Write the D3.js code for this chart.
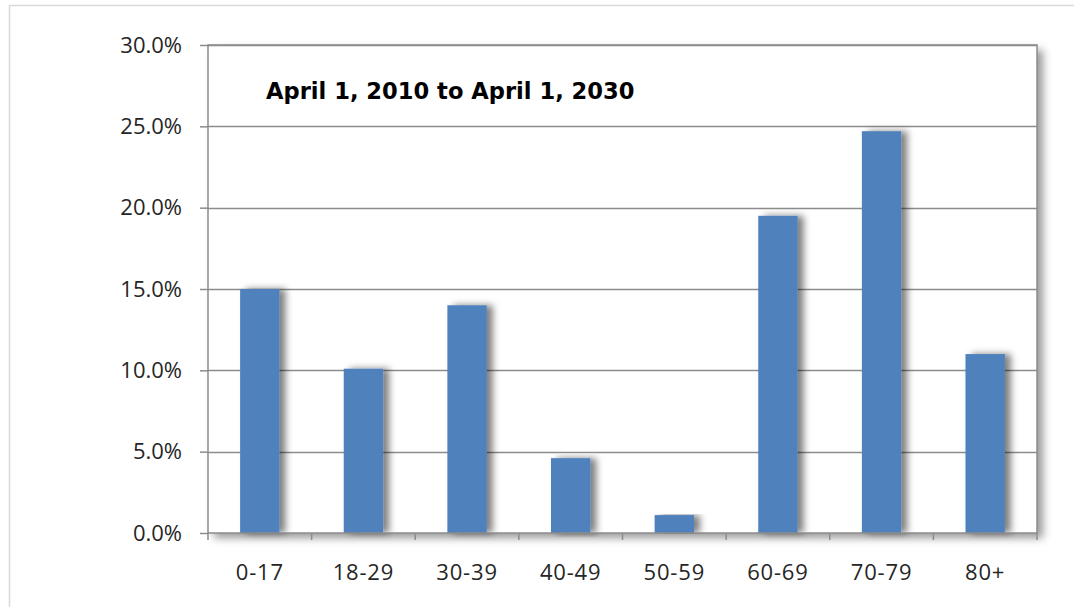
<!DOCTYPE html>
<html><head><meta charset="utf-8">
<script src="https://cdn.jsdelivr.net/npm/d3@7"></script>
<style>body{margin:0;background:#fff}svg{display:block}</style>
</head><body>
<svg id="c" width="1074" height="607"></svg>
<script>
const categories = ["0-17","18-29","30-39","40-49","50-59","60-69","70-79","80+"];
const values = [15.0, 10.1, 14.0, 4.6, 1.1, 19.5, 24.7, 11.0];
const yTicks = [0, 5, 10, 15, 20, 25, 30];
const title = "April 1, 2010 to April 1, 2030";

const svg = d3.select("#c");
const m = {l:208, t:45, r:1037, b:533};
const x = d3.scaleBand().domain(categories).range([m.l, m.r]).paddingInner(0.62).paddingOuter(0.31);
const y = d3.scaleLinear().domain([0,30]).range([m.b, m.t]);
const FONT = "'Open Sans', 'Liberation Sans', sans-serif";

const defs = svg.append("defs");
const f1 = defs.append("filter").attr("id","sh").attr("x","-20%").attr("y","-20%").attr("width","150%").attr("height","150%");
f1.append("feDropShadow").attr("dx",6).attr("dy",5).attr("stdDeviation",4.5).attr("flood-color","#000").attr("flood-opacity",0.4);
const f2 = defs.append("filter").attr("id","bs").attr("x","-20%").attr("y","-5%").attr("width","160%").attr("height","110%");
f2.append("feDropShadow").attr("dx",6).attr("dy",0).attr("stdDeviation",3.5).attr("flood-color","#000").attr("flood-opacity",0.5);

// outer frame
svg.append("rect").attr("x",9.5).attr("y",5.5).attr("width",1080).attr("height",620)
  .attr("fill","#fff").attr("stroke","#d9d9d9").attr("stroke-width",1.5);

// plot area with shadow
svg.append("rect").attr("x",m.l).attr("y",m.t).attr("width",m.r-m.l).attr("height",m.b-m.t)
  .attr("fill","#fff").attr("filter","url(#sh)");

// gridlines
svg.append("g").selectAll("line").data(yTicks.filter(d=>d>0)).join("line")
  .attr("x1",m.l).attr("x2",m.r).attr("y1",d=>Math.round(y(d))+0.5).attr("y2",d=>Math.round(y(d))+0.5)
  .attr("stroke","#8c8c8c").attr("stroke-width",1.5);

// bars
svg.append("g").selectAll("rect").data(values).join("rect")
  .attr("x",(d,i)=>x(categories[i])).attr("width",x.bandwidth())
  .attr("y",d=>y(d)).attr("height",d=>y(0)-y(d))
  .attr("fill","#4f81bd").attr("filter","url(#bs)");

// frame
svg.append("rect").attr("x",m.l).attr("y",m.t).attr("width",m.r-m.l).attr("height",m.b-m.t)
  .attr("fill","none").attr("stroke","#8c8c8c").attr("stroke-width",1.5);

// y axis
const ya = svg.append("g").attr("transform",`translate(${m.l},0)`)
  .call(d3.axisLeft(y).tickValues(yTicks).tickSize(8).tickPadding(18).tickFormat(d=>d.toFixed(1)+"%"));
ya.select(".domain").remove();
ya.selectAll("line").attr("stroke","#8c8c8c").attr("stroke-width",1.5);
ya.selectAll("text").attr("font-family",FONT).attr("font-size",22).attr("fill","#262626");

// x axis
const xa = svg.append("g").attr("transform",`translate(0,${m.b})`);
const bounds = categories.map(c=>x(c)-x.step()*x.paddingInner()/2).concat([m.r]);
xa.selectAll("line").data(bounds).join("line")
  .attr("x1",d=>d).attr("x2",d=>d).attr("y1",0).attr("y2",7).attr("stroke","#8c8c8c").attr("stroke-width",1.5);
xa.selectAll("text").data(categories).join("text")
  .attr("x",d=>x(d)+x.bandwidth()/2).attr("y",47).attr("text-anchor","middle")
  .attr("font-family",FONT).attr("font-size",22).attr("letter-spacing",0.8).attr("fill","#262626").text(d=>d);

// title
svg.append("text").attr("x",266).attr("y",99).attr("font-family","'DejaVu Sans', sans-serif")
  .attr("font-weight","bold").attr("font-size",22.6).attr("fill","#000").text(title);
</script>
</body></html>
